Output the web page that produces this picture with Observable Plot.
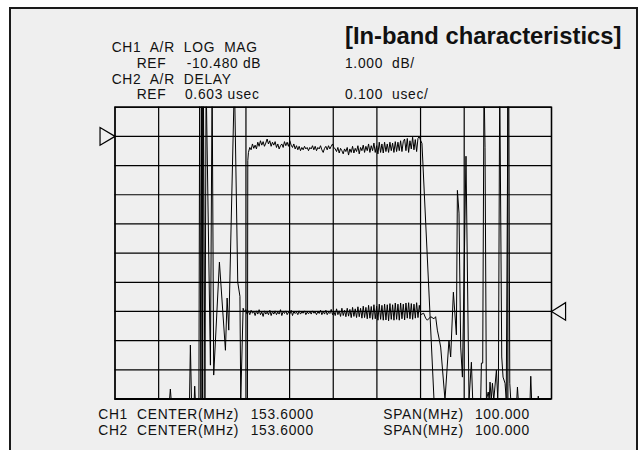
<!DOCTYPE html>
<html>
<head>
<meta charset="utf-8">
<script src="https://cdn.jsdelivr.net/npm/d3@7"></script>
<script src="https://cdn.jsdelivr.net/npm/@observablehq/plot@0.6"></script>
<style>
  html, body { margin: 0; padding: 0; background: #fff; }
  #page { position: relative; width: 640px; height: 450px; overflow: hidden; background: #fff;
          font-family: "Liberation Sans", Arial, Helvetica, sans-serif; color: #111; }
  #box { position: absolute; left: 9px; top: 7px; width: 629px; height: 470px; box-sizing: border-box;
         border: 2px solid #1a1a1a; background: #efefef; }
  .t { position: absolute; white-space: pre; font-size: 13.8px; line-height: 13.8px; letter-spacing: 0.7px; }
  .title { position: absolute; white-space: pre; font-size: 23.8px; line-height: 23.8px; font-weight: bold; }
  #plot { position: absolute; left: 0; top: 0; }
</style>
</head>
<body>
<div id="page">
  <div id="box"></div>
  <div class="title" style="left:345px;top:24.2px">[In-band characteristics]</div>
  <div class="t" style="left:111.7px;top:41.3px">CH1  A/R  LOG  MAG</div>
  <div class="t" style="left:136.7px;top:56.8px">REF</div>
  <div class="t" style="left:186.7px;top:56.8px">-10.480 dB</div>
  <div class="t" style="left:345px;top:56.8px">1.000  dB/</div>
  <div class="t" style="left:111.7px;top:72.6px">CH2  A/R  DELAY</div>
  <div class="t" style="left:136.7px;top:88.3px">REF</div>
  <div class="t" style="left:185px;top:88.3px">0.603 usec</div>
  <div class="t" style="left:345px;top:88.3px">0.100  usec/</div>
  <div class="t" style="left:98.3px;top:408.3px">CH1  CENTER(MHz)</div>
  <div class="t" style="left:250.7px;top:408.3px">153.6000</div>
  <div class="t" style="left:98.3px;top:423.8px">CH2  CENTER(MHz)</div>
  <div class="t" style="left:250.7px;top:423.8px">153.6000</div>
  <div class="t" style="left:383.3px;top:408.3px">SPAN(MHz)</div>
  <div class="t" style="left:475px;top:408.3px">100.000</div>
  <div class="t" style="left:383.3px;top:423.8px">SPAN(MHz)</div>
  <div class="t" style="left:475px;top:423.8px">100.000</div>
  <div id="plot"></div>
</div>
<script>
// ---- sweep settings ----
const centerMHz = 153.6;
const spanMHz = 100;
const ch1Ref = -10.48, ch1PerDiv = 1.0, ch1RefDiv = 9;   // dB
const ch2Ref = 0.603,  ch2PerDiv = 0.1, ch2RefDiv = 3;   // usec
const xDivMHz = [103.6, 113.6, 123.6, 133.6, 143.6, 153.6, 163.6, 173.6, 183.6, 193.6, 203.6];
const yDivs = [0, 1, 2, 3, 4, 5, 6, 7, 8, 9, 10];

// ---- CH1 LOG MAG (dB) ----
const ch1LowMHz = [103.6, 133.85, 134.02];
const ch1LowDb  = [-30, -30, -11.31];
const ch1PassStartMHz = 134.17, ch1PassStepMHz = 0.3058;
const ch1PassDb = [
  -11.03, -10.86, -10.94, -10.74, -10.89, -10.78, -10.91, -10.68, -10.82, -10.63,
  -10.78, -10.66, -10.82, -10.71, -10.57, -10.74, -10.63, -10.82, -10.68, -10.78,
  -10.66, -10.86, -10.74, -10.91, -10.80, -10.74, -10.86, -10.66, -10.80, -10.68,
  -10.82, -10.63, -10.78, -10.86, -10.74, -10.91, -10.80, -10.94, -10.82, -10.97,
  -10.86, -10.94, -10.82, -10.91, -10.86, -10.97, -10.86, -10.91, -10.80, -10.94,
  -10.82, -10.97, -10.86, -10.91, -10.80, -10.94, -11.03, -10.89, -10.82, -10.94,
  -10.80, -10.91, -10.82, -10.74, -10.86, -10.91, -11.00, -10.86, -11.05, -10.89,
  -10.97, -11.08, -10.91, -11.00, -10.86, -11.12, -10.91, -11.03, -10.82, -11.05,
  -10.89, -11.00, -10.80, -11.08, -10.86, -10.97, -10.78, -11.03, -10.82, -10.97,
  -10.74, -11.03, -10.80, -10.97, -10.71, -11.03, -10.80, -11.08, -10.68, -11.03,
  -10.74, -11.05, -10.68, -11.00, -10.74, -11.03, -10.68, -10.97, -10.71, -11.03,
  -10.66, -11.00, -10.68, -10.97, -10.63, -11.00, -10.66, -10.57, -10.97, -10.55,
  -11.03, -10.63, -10.91, -10.51, -10.94, -10.59, -11.00, -10.55, -10.48, -10.62,
  -10.72
];
const ch1HighMHz = [176.67, 179.86, 203.6];
const ch1HighDb  = [-19.47, -30, -30];

// ---- CH2 DELAY (usec) ----
const ch2LowMHz = [103.6, 115.94, 116.28, 116.63, 120.64, 120.87, 121.17, 121.67, 121.86, 122.09,
  122.82, 123.00, 123.28, 123.46, 123.69, 123.85, 124.20, 124.47, 125.46, 125.85,
  126.21, 127.52, 128.90, 129.29, 129.66, 130.96, 131.72, 132.22, 132.41];
const ch2LowUs = [0.27, 0.27, 0.337, 0.27, 0.27, 0.488, 0.27, 0.27, 0.347, 0.27,
  0.27, 1.4, 0.27, 1.4, 0.27, 1.4, 0.27, 1.4, 0.419, 1.4,
  0.385, 0.772, 0.470, 0.649, 0.539, 1.4, 0.703, 0.655, 0.30];
const ch2PassStartMHz = 132.95, ch2PassStepMHz = 0.3058;
const ch2PassUs = [
  0.614, 0.601, 0.609, 0.594, 0.605, 0.592, 0.607, 0.597, 0.603, 0.589,
  0.605, 0.594, 0.609, 0.592, 0.601, 0.586, 0.605, 0.594, 0.601, 0.592,
  0.607, 0.589, 0.603, 0.594, 0.605, 0.592, 0.601, 0.594, 0.609, 0.589,
  0.603, 0.596, 0.605, 0.592, 0.601, 0.594, 0.607, 0.589, 0.603, 0.596,
  0.601, 0.592, 0.605, 0.594, 0.601, 0.597, 0.605, 0.592, 0.601, 0.595,
  0.603, 0.594, 0.605, 0.597, 0.601, 0.592, 0.603, 0.596, 0.607, 0.592,
  0.603, 0.594, 0.607, 0.592, 0.601, 0.596, 0.610, 0.592, 0.603, 0.589,
  0.612, 0.592, 0.605, 0.586, 0.614, 0.589, 0.607, 0.585, 0.614, 0.587,
  0.610, 0.582, 0.617, 0.586, 0.612, 0.582, 0.619, 0.585, 0.614, 0.580,
  0.621, 0.582, 0.617, 0.578, 0.624, 0.580, 0.620, 0.576, 0.626, 0.578,
  0.621, 0.573, 0.628, 0.576, 0.624, 0.573, 0.628, 0.574, 0.626, 0.571,
  0.630, 0.576, 0.626, 0.573, 0.632, 0.576, 0.628, 0.573, 0.632, 0.578,
  0.628, 0.574, 0.632, 0.580, 0.633, 0.578, 0.630, 0.576, 0.628, 0.580,
  0.633, 0.582, 0.624, 0.592
];
const ch2HighMHz = [174.31, 174.77, 175.16, 175.92, 176.68, 177.06, 177.45, 177.82, 178.21, 179.20,
  180.11, 180.50, 181.12, 181.81, 182.04, 182.41, 182.80, 183.19, 184.01, 184.70,
  185.25, 185.55, 187.38, 187.54, 187.84, 188.14, 188.37, 188.69, 189.10, 189.33,
  189.52, 189.79, 190.07, 190.37, 190.98, 191.28, 191.44, 191.74, 192.20, 192.50,
  192.96, 193.23, 193.65, 193.81, 194.04, 194.27, 195.64, 195.80, 195.99, 198.69,
  198.85, 199.04, 200.46, 200.57, 200.69, 203.6];
const ch2HighUs = [0.597, 0.580, 0.573, 0.585, 0.578, 0.585, 0.539, 0.512, 0.481, 0.30,
  0.505, 0.447, 0.669, 0.523, 1.018, 0.940, 0.481, 0.378, 1.135, 0.30,
  0.429, 0.30, 0.30, 0.426, 0.426, 1.4, 1.166, 0.30, 0.327, 0.30,
  0.361, 0.30, 0.357, 0.30, 0.402, 0.306, 0.368, 1.4, 0.447, 0.378,
  0.357, 0.30, 1.4, 1.4, 0.357, 0.30, 0.30, 0.344, 0.30, 0.30,
  0.381, 0.30, 0.30, 0.313, 0.30, 0.30];

// ---- build tables ----
function rows(freqs, vals, ref, per, refDiv) {
  return freqs.map((f, i) => ({ f, v: vals[i], div: (vals[i] - ref) / per + refDiv }));
}
const ch1Table = [
  ...rows(ch1LowMHz, ch1LowDb, ch1Ref, ch1PerDiv, ch1RefDiv),
  ...rows(ch1PassDb.map((_, i) => ch1PassStartMHz + i * ch1PassStepMHz), ch1PassDb, ch1Ref, ch1PerDiv, ch1RefDiv),
  ...rows(ch1HighMHz, ch1HighDb, ch1Ref, ch1PerDiv, ch1RefDiv)
];
const ch2Table = [
  ...rows(ch2LowMHz, ch2LowUs, ch2Ref, ch2PerDiv, ch2RefDiv),
  ...rows(ch2PassUs.map((_, i) => ch2PassStartMHz + i * ch2PassStepMHz), ch2PassUs, ch2Ref, ch2PerDiv, ch2RefDiv),
  ...rows(ch2HighMHz, ch2HighUs, ch2Ref, ch2PerDiv, ch2RefDiv)
];

const xMin = centerMHz - spanMHz / 2, xMax = centerMHz + spanMHz / 2;

// reference-level marker symbols (tip at the anchor point)
const triRight = { draw(ctx, size) { const r = Math.sqrt(size / Math.PI); ctx.moveTo(0, 0); ctx.lineTo(-1.7 * r, -r); ctx.lineTo(-1.7 * r, r); ctx.closePath(); } };
const triLeft  = { draw(ctx, size) { const r = Math.sqrt(size / Math.PI); ctx.moveTo(0, 0); ctx.lineTo(1.6 * r, -r); ctx.lineTo(1.6 * r, r); ctx.closePath(); } };

const chart = Plot.plot({
  width: 640,
  height: 450,
  marginLeft: 114.5,
  marginRight: 89,
  marginTop: 106.7,
  marginBottom: 51.5,
  x: { domain: [xMin, xMax], axis: null },
  y: { domain: [0, 10], axis: null },
  style: { background: "transparent", overflow: "visible" },
  marks: [
    Plot.ruleX(xDivMHz, { stroke: "#000", strokeWidth: 1.2 }),
    Plot.ruleY(yDivs, { stroke: "#000", strokeWidth: 1.2 }),
    Plot.line(ch1Table, { x: "f", y: "div", stroke: "#000", strokeWidth: 1, clip: true }),
    Plot.line(ch2Table, { x: "f", y: "div", stroke: "#000", strokeWidth: 1, clip: true }),
    Plot.ruleY([0], { stroke: "#000", strokeWidth: 2.2 }),
    Plot.frame({ stroke: "#000", strokeWidth: 1.4 }),
    Plot.dot([{ f: xMin, div: ch1RefDiv }], { x: "f", y: "div", symbol: triRight, r: 8.8, stroke: "#000", strokeWidth: 1.2, fill: "none" }),
    Plot.dot([{ f: xMax, div: ch2RefDiv }], { x: "f", y: "div", symbol: triLeft, r: 8.8, stroke: "#000", strokeWidth: 1.2, fill: "none" })
  ]
});
document.getElementById("plot").appendChild(chart);
</script>
</body>
</html>
